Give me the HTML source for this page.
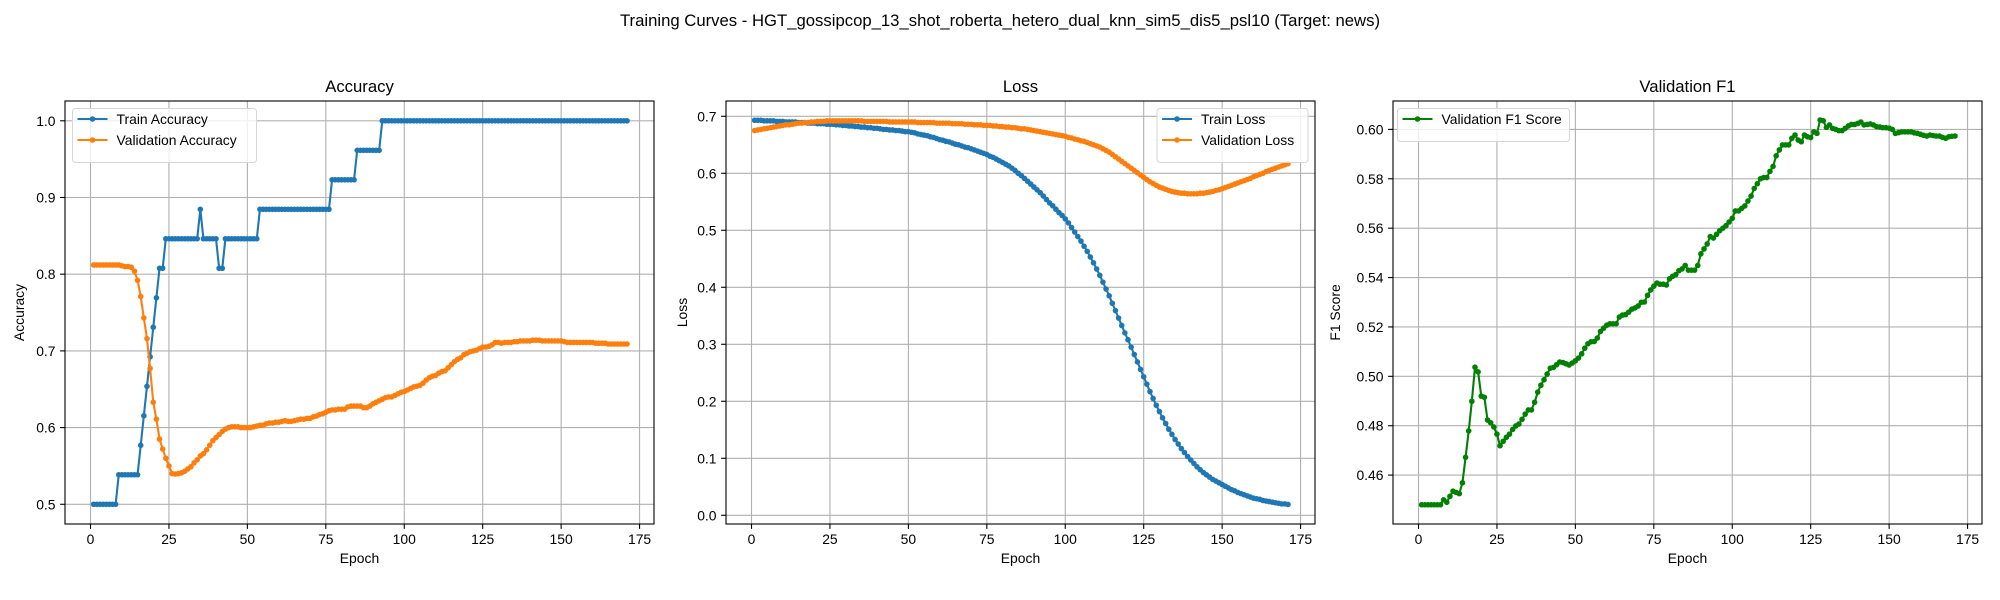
<!DOCTYPE html>
<html><head><meta charset="utf-8"><style>
html,body{margin:0;padding:0;background:#fff;}
svg{display:block;font-family:"Liberation Sans","DejaVu Sans",sans-serif;}
</style></head><body>
<svg id="fig" width="2000" height="600" viewBox="0 0 2000 600" xmlns="http://www.w3.org/2000/svg">
<rect width="2000" height="600" fill="#fff"/>
<text x="1000" y="26" font-size="16.7" text-anchor="middle" fill="#000">Training Curves - HGT_gossipcop_13_shot_roberta_hetero_dual_knn_sim5_dis5_psl10 (Target: news)</text>
</svg>
<script>
const epochs = Array.from({length:171},(_,i)=>i+1);
const xTicks = [0,25,50,75,100,125,150,175];
const accTicks = [0.5,0.6,0.7,0.8,0.9,1.0];
const accTickLabels = ["0.5","0.6","0.7","0.8","0.9","1.0"];
const lossTicks = [0,0.1,0.2,0.3,0.4,0.5,0.6,0.7];
const lossTickLabels = ["0.0","0.1","0.2","0.3","0.4","0.5","0.6","0.7"];
const f1Ticks = [0.46,0.48,0.50,0.52,0.54,0.56,0.58,0.60];
const f1TickLabels = ["0.46","0.48","0.50","0.52","0.54","0.56","0.58","0.60"];

const trainAcc = [0.5,0.5,0.5,0.5,0.5,0.5,0.5,0.5,
0.5385,0.5385,0.5385,0.5385,0.5385,0.5385,0.5385,
0.5769,0.6154,0.6538,0.6923,0.7308,0.7692,0.8077,0.8077,
0.8462,0.8462,0.8462,0.8462,0.8462,0.8462,0.8462,0.8462,0.8462,0.8462,0.8462,
0.8846,
0.8462,0.8462,0.8462,0.8462,0.8462,
0.8077,0.8077,
0.8462,0.8462,0.8462,0.8462,0.8462,0.8462,0.8462,0.8462,0.8462,0.8462,0.8462,
0.8846,0.8846,0.8846,0.8846,0.8846,0.8846,0.8846,0.8846,0.8846,0.8846,0.8846,0.8846,0.8846,0.8846,0.8846,0.8846,0.8846,0.8846,0.8846,0.8846,0.8846,0.8846,0.8846,
0.9231,0.9231,0.9231,0.9231,0.9231,0.9231,0.9231,0.9231,
0.9615,0.9615,0.9615,0.9615,0.9615,0.9615,0.9615,0.9615,
1,1,1,1,1,1,1,1,1,1,1,1,1,1,1,1,1,1,1,1,1,1,1,1,1,1,1,1,1,1,1,1,1,1,1,1,1,1,1,1,
1,1,1,1,1,1,1,1,1,1,1,1,1,1,1,1,1,1,1,1,1,1,1,1,1,1,1,1,1,1,1,1,1,1,1,1,1,1,1];

const valAcc = [0.812,0.812,0.812,0.812,0.812,0.812,0.812,0.812,0.812,0.811,
0.810,0.810,0.809,0.804,0.792,0.771,0.743,0.716,0.677,0.633,
0.611,0.585,0.572,0.560,0.550,0.540,0.5395,0.540,0.541,0.543,
0.546,0.549,0.554,0.558,0.563,0.566,0.571,0.577,0.583,0.587,
0.591,0.595,0.598,0.600,0.601,0.601,0.601,0.600,0.600,0.600,
0.600,0.601,0.602,0.603,0.603,0.605,0.606,0.606,0.607,0.607,
0.608,0.609,0.608,0.608,0.609,0.610,0.611,0.611,0.612,0.612,
0.614,0.615,0.617,0.618,0.620,0.622,0.623,0.623,0.624,0.624,
0.624,0.627,0.628,0.628,0.628,0.628,0.626,0.626,0.628,0.631,
0.633,0.635,0.637,0.639,0.640,0.640,0.642,0.644,0.646,0.647,
0.649,0.651,0.653,0.654,0.655,0.658,0.662,0.665,0.667,0.668,
0.671,0.673,0.674,0.678,0.682,0.686,0.689,0.691,0.695,0.697,
0.699,0.700,0.701,0.703,0.705,0.705,0.706,0.708,0.711,0.711,
0.710,0.711,0.711,0.711,0.712,0.712,0.713,0.713,0.713,0.713,
0.714,0.714,0.714,0.713,0.713,0.713,0.713,0.713,0.713,0.713,
0.712,0.711,0.711,0.711,0.711,0.711,0.711,0.711,0.711,0.711,
0.710,0.710,0.710,0.710,0.709,0.709,0.709,0.709,0.709,0.709,0.709];

const trainLoss = [0.693,0.693,0.693,0.692,0.692,0.692,0.692,0.691,0.691,0.691,
0.690,0.690,0.690,0.690,0.689,0.689,0.689,0.688,0.688,0.688,
0.687,0.687,0.687,0.686,0.686,0.686,0.685,0.685,0.684,0.684,
0.683,0.683,0.682,0.682,0.681,0.681,0.680,0.680,0.679,0.679,
0.678,0.677,0.677,0.676,0.676,0.675,0.675,0.674,0.673,0.673,
0.672,0.671,0.669,0.668,0.667,0.666,0.664,0.663,0.661,0.659,
0.658,0.656,0.655,0.653,0.651,0.650,0.648,0.646,0.645,0.643,
0.641,0.639,0.637,0.635,0.633,0.630,0.628,0.625,0.622,0.619,
0.616,0.613,0.609,0.605,0.600,0.596,0.591,0.586,0.581,0.576,
0.571,0.566,0.560,0.554,0.548,0.543,0.537,0.531,0.526,0.520,
0.513,0.505,0.497,0.489,0.481,0.472,0.463,0.453,0.443,0.432,
0.421,0.409,0.397,0.385,0.372,0.359,0.346,0.333,0.320,0.308,
0.295,0.282,0.269,0.256,0.243,0.230,0.217,0.205,0.193,0.182,
0.171,0.161,0.151,0.142,0.133,0.125,0.117,0.110,0.103,0.097,
0.091,0.085,0.080,0.075,0.071,0.067,0.063,0.060,0.057,0.054,
0.051,0.048,0.045,0.043,0.040,0.038,0.036,0.034,0.032,0.030,
0.029,0.028,0.026,0.025,0.024,0.023,0.022,0.021,0.020,0.020,0.019];

const valLoss = [0.675,0.676,0.677,0.678,0.679,0.680,0.681,0.682,0.683,0.684,
0.685,0.685,0.686,0.687,0.688,0.688,0.689,0.689,0.690,0.690,
0.691,0.691,0.691,0.692,0.692,0.692,0.692,0.692,0.692,0.692,
0.692,0.692,0.692,0.692,0.692,0.691,0.691,0.691,0.691,0.691,
0.691,0.691,0.691,0.690,0.690,0.690,0.690,0.690,0.690,0.690,
0.690,0.690,0.689,0.689,0.689,0.689,0.689,0.689,0.688,0.688,
0.688,0.688,0.688,0.687,0.687,0.687,0.687,0.686,0.686,0.686,
0.685,0.685,0.685,0.684,0.684,0.684,0.683,0.683,0.682,0.682,
0.681,0.681,0.680,0.680,0.679,0.678,0.678,0.677,0.676,0.675,
0.674,0.673,0.672,0.671,0.670,0.669,0.668,0.667,0.666,0.665,
0.663,0.662,0.660,0.659,0.657,0.656,0.654,0.652,0.650,0.648,
0.646,0.643,0.640,0.637,0.633,0.629,0.625,0.621,0.617,0.613,
0.609,0.605,0.601,0.597,0.593,0.589,0.585,0.582,0.579,0.576,
0.574,0.572,0.570,0.568,0.567,0.566,0.565,0.565,0.564,0.564,
0.564,0.564,0.565,0.565,0.566,0.567,0.568,0.570,0.571,0.573,
0.575,0.577,0.579,0.581,0.583,0.585,0.587,0.589,0.591,0.594,
0.596,0.598,0.600,0.603,0.605,0.607,0.609,0.611,0.613,0.615,0.617];

const valF1 = [0.448,0.448,0.448,0.448,0.448,0.448,0.448,0.450,0.449,0.4514,
0.4535,0.453,0.4525,0.4569,0.4672,0.4779,0.4899,0.5037,0.5018,0.492,
0.4915,0.4823,0.4812,0.4795,0.4766,0.4719,0.4737,0.4753,0.4766,0.4785,
0.4799,0.4807,0.4826,0.4847,0.4864,0.4864,0.4895,0.4936,0.4964,0.4986,
0.5009,0.5033,0.5036,0.5047,0.5058,0.5056,0.5051,0.5046,0.5054,0.5063,
0.5074,0.5091,0.5114,0.5132,0.514,0.5141,0.5155,0.5182,0.5195,0.5207,
0.5213,0.5213,0.5213,0.524,0.5248,0.525,0.526,0.5272,0.5277,0.5285,
0.530,0.5301,0.5328,0.535,0.5365,0.5378,0.5373,0.5373,0.537,0.5395,
0.5405,0.5412,0.5428,0.5435,0.5449,0.543,0.543,0.543,0.5449,0.5496,
0.5516,0.5536,0.5566,0.556,0.5575,0.559,0.560,0.561,0.5625,0.564,
0.567,0.567,0.568,0.569,0.571,0.573,0.5761,0.578,0.580,0.5805,
0.5805,0.583,0.585,0.5893,0.5917,0.5937,0.5937,0.5937,0.5964,0.5977,
0.5957,0.595,0.5977,0.597,0.5967,0.599,0.5984,0.6038,0.6035,0.6008,
0.6018,0.6004,0.600,0.5995,0.5995,0.6004,0.6014,0.602,0.602,0.6024,
0.603,0.6018,0.602,0.6022,0.6018,0.6011,0.601,0.6007,0.6007,0.6005,
0.600,0.5984,0.5987,0.599,0.599,0.599,0.599,0.5986,0.5984,0.598,
0.5976,0.5973,0.5977,0.5975,0.5973,0.5973,0.5968,0.5964,0.597,0.5972,0.5973];

const NS = "http://www.w3.org/2000/svg";
const svg = document.getElementById('fig');
function mk(tag, attrs, parent){
  const e = document.createElementNS(NS, tag);
  for (const k in attrs) e.setAttribute(k, attrs[k]);
  (parent||svg).appendChild(e);
  return e;
}
const TOP = 101, BOT = 524, W = 589, XMIN = -8.13, XMAX = 179.6;

function drawPanel(cfg){
  const L = cfg.left, R = L + W;
  const g = mk('g', {});
  
  
  const xs = v => L + (v - XMIN) / (XMAX - XMIN) * W;
  const ys = v => BOT - (v - cfg.ymin) / (cfg.ymax - cfg.ymin) * (BOT - TOP);
  // grid + ticks
  xTicks.forEach(t => {
    const x = xs(t);
    const gl = mk('line', {x1:x, x2:x, y1:TOP, y2:BOT, stroke:'#b0b0b0', 'stroke-width':1.1}, g);
    
    
    mk('line', {x1:x, x2:x, y1:BOT, y2:BOT+4.9, stroke:'#000', 'stroke-width':1.1}, g);
    const tl = mk('text', {x:x, y:BOT+20, 'font-size':13.9, 'text-anchor':'middle', fill:'#000'}, g);
    
    
    tl.textContent = String(t);
  });
  cfg.yTicks.forEach((t, i) => {
    const y = ys(t);
    const gl = mk('line', {x1:L, x2:R, y1:y, y2:y, stroke:'#b0b0b0', 'stroke-width':1.1}, g);
    
    
    mk('line', {x1:L-4.9, x2:L, y1:y, y2:y, stroke:'#000', 'stroke-width':1.1}, g);
    const tl = mk('text', {x:L-9.5, y:y+5, 'font-size':13.9, 'text-anchor':'end', fill:'#000'}, g);
    
    
    tl.textContent = cfg.yLabels[i];
  });
  // clip
  const cid = 'clip-' + cfg.name;
  const cp = mk('clipPath', {id:cid}, g);
  mk('rect', {x:L, y:TOP, width:W, height:BOT-TOP}, cp);
  cfg.series.forEach(s => {
    const sg = mk('g', {'clip-path':'url(#'+cid+')'}, g);
    
    
    const pts = s.data.map((v, i) => xs(epochs[i]).toFixed(2) + ',' + ys(v).toFixed(2)).join(' ');
    const pl = mk('polyline', {points:pts, fill:'none', stroke:s.color, 'stroke-width':2.1, 'stroke-linejoin':'round'}, sg);
    
    
    s.data.forEach((v, i) => {
      const c = mk('circle', {cx:xs(epochs[i]).toFixed(2), cy:ys(v).toFixed(2), r:2.8, fill:s.color}, sg);
      
      
    });
  });
  const fr = mk('rect', {x:L, y:TOP, width:W, height:BOT-TOP, fill:'none', stroke:'#000', 'stroke-width':1.1}, g);
  
  
  const ti = mk('text', {x:L+W/2, y:TOP-9, 'font-size':16.7, 'text-anchor':'middle', fill:'#000'}, g);
  
  
  ti.textContent = cfg.title;
  const xl = mk('text', {x:L+W/2, y:BOT+39, 'font-size':13.9, 'text-anchor':'middle', fill:'#000'}, g);
  
  
  xl.textContent = 'Epoch';
  const yl = mk('text', {x:0, y:0, 'font-size':13.9, 'text-anchor':'middle', fill:'#000', transform:'translate('+cfg.ylx+','+((TOP+BOT)/2)+') rotate(-90)'}, g);
  
  
  yl.textContent = cfg.ylabel;
  // legend
  const lg = mk('g', {}, g);
  
  
  const lw = cfg.legendW, lh = 12 + cfg.series.length * 21;
  mk('rect', {x:cfg.legendX, y:108.5, width:lw, height:lh, rx:3, fill:'#fff', 'fill-opacity':0.8, stroke:'#d6d6d6', 'stroke-width':1}, lg);
  cfg.series.forEach((s, i) => {
    const cy = 119 + i * 21;
    const e = mk('g', {}, lg);
    
    
    mk('line', {x1:cfg.legendX+5, x2:cfg.legendX+35, y1:cy, y2:cy, stroke:s.color, 'stroke-width':2.1}, e);
    mk('circle', {cx:cfg.legendX+20, cy:cy, r:2.8, fill:s.color}, e);
    const t = mk('text', {x:cfg.legendX+44, y:cy+5, 'font-size':13.9, fill:'#000'}, e);
    t.textContent = s.label;
  });
}

drawPanel({name:'accuracy-panel', left:65, title:'Accuracy', ylabel:'Accuracy', ylx:24,
  ymin:0.4743, ymax:1.0258, yTicks:accTicks, yLabels:accTickLabels, legendX:72.5, legendW:184,
  series:[{name:'train-accuracy', label:'Train Accuracy', data:trainAcc, color:'#1f77b4'},
          {name:'validation-accuracy', label:'Validation Accuracy', data:valAcc, color:'#ff7f0e'}]});
drawPanel({name:'loss-panel', left:726, title:'Loss', ylabel:'Loss', ylx:687,
  ymin:-0.0153, ymax:0.7268, yTicks:lossTicks, yLabels:lossTickLabels, legendX:1157, legendW:151,
  series:[{name:'train-loss', label:'Train Loss', data:trainLoss, color:'#1f77b4'},
          {name:'validation-loss', label:'Validation Loss', data:valLoss, color:'#ff7f0e'}]});
drawPanel({name:'f1-panel', left:1393, title:'Validation F1', ylabel:'F1 Score', ylx:1340,
  ymin:0.4402, ymax:0.6115, yTicks:f1Ticks, yLabels:f1TickLabels, legendX:1397.5, legendW:172,
  series:[{name:'validation-f1', label:'Validation F1 Score', data:valF1, color:'#008000'}]});
</script>
</body></html>
